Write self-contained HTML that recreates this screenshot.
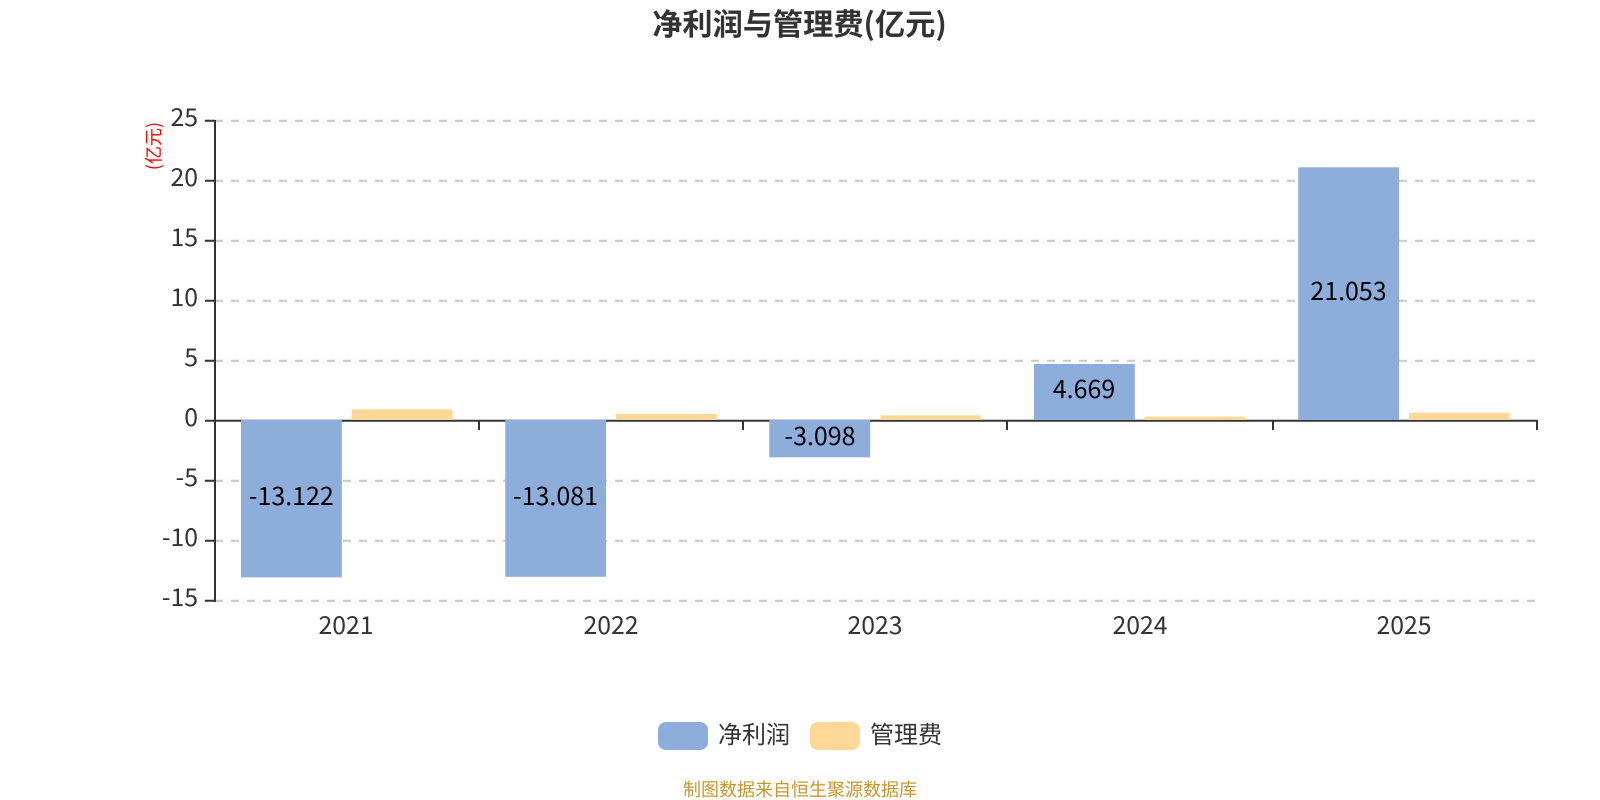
<!DOCTYPE html>
<html><head><meta charset="utf-8"><style>
html,body{margin:0;padding:0;background:#fff;width:1600px;height:800px;overflow:hidden}
svg{display:block}
text{font-family:"Noto Sans CJK SC","Liberation Sans",sans-serif}
.t{font-size:24px;fill:#333}
.n{font-size:24.8px;fill:#333}
.d{font-size:25px;fill:#000;text-anchor:middle}
</style></head><body>
<svg width="1600" height="800" viewBox="0 0 1600 800" xmlns="http://www.w3.org/2000/svg">
<rect width="1600" height="800" fill="#fff"/>
<text x="799.5" y="35" text-anchor="middle" font-size="30.2" font-weight="700" fill="#333">净利润与管理费(亿元)</text>
<text transform="translate(160,146) rotate(-90)" text-anchor="middle" font-size="18" fill="#f00">(亿元)</text>
<g stroke="#c8c8c8" stroke-width="2" stroke-dasharray="8 8" fill="none">
<path d="M215 120.8H1537M215 180.8H1537M215 240.8H1537M215 300.8H1537M215 360.8H1537M215 480.8H1537M215 540.8H1537M215 600.8H1537"/>
</g>
<g stroke="#333" stroke-width="2" fill="none">
<path d="M215 120V602M205 120.8H215M205 180.8H215M205 240.8H215M205 300.8H215M205 360.8H215M205 420.8H215M205 480.8H215M205 540.8H215M205 600.8H215"/>
<path d="M215 420.8H1538M479 420.8V430M743 420.8V430M1007 420.8V430M1273 420.8V430M1537 420.8V430"/>
</g>
<g fill="#8dadda">
<rect x="241" y="420" width="100.8" height="157.4"/>
<rect x="505.3" y="420" width="100.8" height="156.8"/>
<rect x="769.3" y="420" width="100.8" height="37.3"/>
<rect x="1034" y="364" width="100.8" height="56"/>
<rect x="1298.3" y="167.3" width="100.8" height="252.7"/>
</g>
<g fill="#ffd897">
<rect x="351.7" y="409.3" width="100.8" height="10.7"/>
<rect x="616" y="414" width="100.8" height="6"/>
<rect x="880.3" y="415.3" width="100.8" height="4.7"/>
<rect x="1144.5" y="416.7" width="100.8" height="3.3"/>
<rect x="1409" y="412.7" width="100.8" height="7.3"/>
</g>
<g text-anchor="end">
<text class="n" x="198" y="126">25</text>
<text class="n" x="198" y="186">20</text>
<text class="n" x="198" y="246">15</text>
<text class="n" x="198" y="306">10</text>
<text class="n" x="198" y="366">5</text>
<text class="n" x="198" y="426">0</text>
<text class="n" x="198" y="486">-5</text>
<text class="n" x="198" y="546">-10</text>
<text class="n" x="198" y="606">-15</text>
</g>
<g text-anchor="middle">
<text class="n" x="346" y="634">2021</text>
<text class="n" x="611" y="634">2022</text>
<text class="n" x="875" y="634">2023</text>
<text class="n" x="1140" y="634">2024</text>
<text class="n" x="1404" y="634">2025</text>
</g>
<text class="d" x="291.3" y="505">-13.122</text>
<text class="d" x="555.5" y="505">-13.081</text>
<text class="d" x="820" y="445">-3.098</text>
<text class="d" x="1084" y="398">4.669</text>
<text class="d" x="1348.5" y="300">21.053</text>
<rect x="658" y="722" width="50" height="28" rx="8" fill="#8dadda"/>
<rect x="810" y="722" width="50" height="28" rx="8" fill="#ffd897"/>
<text class="t" x="718" y="743">净利润</text>
<text class="t" x="870" y="743">管理费</text>
<text x="800" y="796" text-anchor="middle" font-size="18" fill="#c8962a">制图数据来自恒生聚源数据库</text>
</svg>
</body></html>
